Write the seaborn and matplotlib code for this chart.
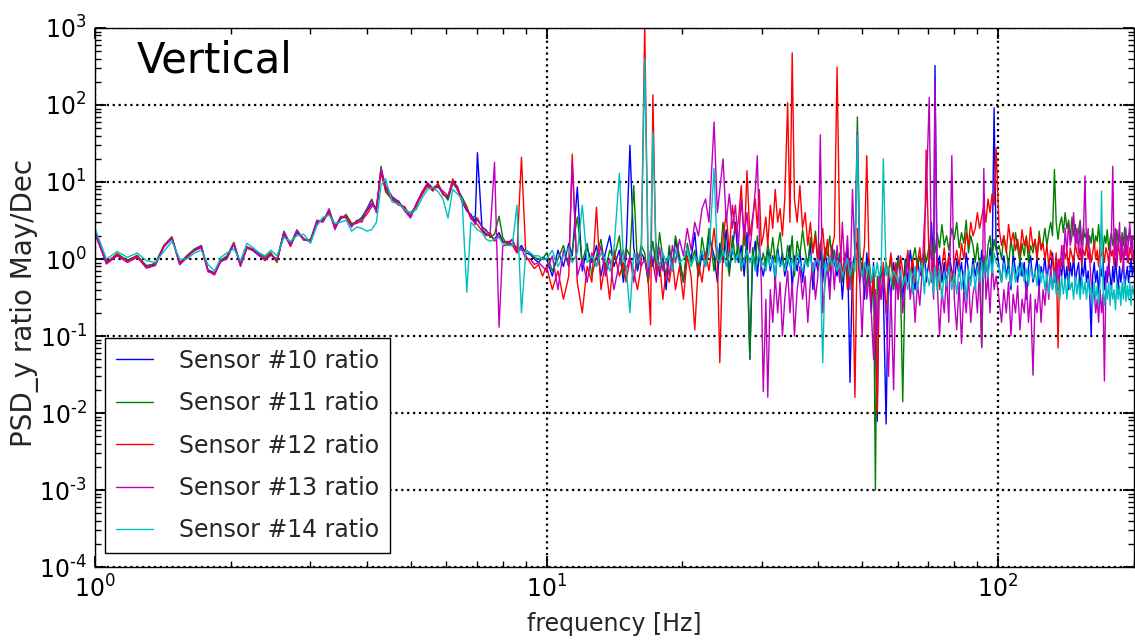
import numpy as np
import pandas as pd
import matplotlib
matplotlib.use("Agg")
import matplotlib.pyplot as plt
from matplotlib.ticker import FuncFormatter, LogLocator
import seaborn as sns

# ---------------- data ----------------
freq = [
    # 1 - 2.5 Hz
    1.00, 1.06, 1.12, 1.18, 1.24, 1.30, 1.36, 1.42, 1.48, 1.54, 1.60, 1.66,
    1.72, 1.78, 1.84, 1.90, 1.96, 2.03, 2.10, 2.17, 2.24, 2.31, 2.38, 2.45,
    # 2.5 - 4.5 Hz
    2.53, 2.62, 2.71, 2.80, 2.90, 3.00, 3.10, 3.20, 3.30, 3.40, 3.50, 3.60,
    3.70, 3.80, 3.90, 4.00, 4.10, 4.20, 4.30, 4.40,
    # 4.5 - 10 Hz
    4.55, 4.70, 4.85, 5.00, 5.15, 5.30, 5.45, 5.60, 5.75, 5.90, 6.05, 6.20,
    6.35, 6.50, 6.66, 6.80, 6.95, 7.03, 7.20, 7.35, 7.50, 7.67, 7.85, 8.00,
    8.20, 8.40, 8.60, 8.80, 9.00, 9.20, 9.40, 9.60, 9.80,
    # 10 - 30 Hz
    10.0, 10.3, 10.6, 10.9, 11.2, 11.4, 11.7, 12.0, 12.3, 12.6,
    12.9, 13.2, 13.5, 13.8, 14.1, 14.5, 14.8, 15.0, 15.3, 15.6,
    15.9, 16.2, 16.5, 16.8, 17.0, 17.2, 17.5, 17.8, 18.1, 18.4,
    18.7, 19.0, 19.3, 19.7, 20.1, 20.5, 20.9, 21.3, 21.7, 22.1,
    22.5, 22.9, 23.5, 23.9, 24.2, 24.6, 25.0, 25.4, 25.8, 26.2,
    26.6, 27.0, 27.4, 27.8, 28.2, 28.6, 29.0, 29.3, 29.6, 29.9,
    # 30 - 100 Hz
    30.2, 30.6, 30.9, 31.3, 31.7, 32.1, 32.5, 32.9, 33.3, 33.7,
    34.2, 34.6, 35.0, 35.4, 35.9, 36.4, 36.9, 37.4, 37.9, 38.4,
    38.9, 39.4, 39.9, 40.4, 40.9, 41.4, 41.9, 42.4, 42.9, 43.4,
    44.0, 44.6, 45.2, 45.8, 46.4, 47.0, 47.6, 48.2, 48.8, 49.4,
    50.0, 50.6, 51.2, 51.8, 52.4, 53.0, 53.5, 54.0, 54.5, 55.1,
    55.7, 56.5, 57.2, 57.9, 58.7, 59.4, 60.1, 60.8, 61.5, 62.3,
    63.1, 63.9, 64.7, 65.5, 66.3, 67.1, 67.9, 68.7, 69.3, 70.4,
    71.2, 72.0, 72.5, 73.3, 74.2, 75.1, 76.0, 76.9, 77.8, 79.0,
    80.0, 81.0, 82.0, 83.0, 84.0, 85.0, 86.0, 87.0, 88.0, 89.0,
    90.0, 91.0, 92.0, 93.0, 94.0, 95.0, 96.0, 97.0, 98.0, 99.0,
    # 100 - 200 Hz
    100.5, 101.8, 103.0, 104.3, 105.5, 106.8, 108.0, 109.3, 110.5, 111.8,
    113.0, 114.3, 115.5, 116.8, 118.0, 119.5, 120.8, 122.0, 123.3, 124.5,
    125.8, 127.0, 128.3, 129.5, 130.8, 132.0, 133.3, 134.5, 135.8, 137.0,
    138.3, 139.5, 140.8, 142.0, 143.3, 144.5, 145.8, 147.0, 148.3, 149.5,
    150.8, 152.0, 153.3, 154.5, 155.8, 157.0, 158.3, 159.5, 160.8, 162.0,
    163.3, 164.5, 165.8, 167.0, 168.3, 169.5, 170.8, 172.0, 173.3, 174.5,
    175.8, 177.0, 178.3, 179.5, 180.8, 182.0, 183.3, 184.5, 185.8, 187.0,
    188.3, 189.5, 190.8, 192.0, 193.3, 194.5, 195.8, 197.0, 198.3, 199.5,
]

sensor10 = [
    2.3, 0.92, 1.12, 0.97, 1.08, 0.82, 0.86, 1.45, 1.85, 0.9, 1.08, 1.3, 1.4, 0.72, 0.66, 0.95, 1.05, 1.55, 0.86, 1.4, 1.28, 1.1, 1.0, 1.15,
    0.95, 2.1, 1.5, 2.2, 1.8, 1.7, 2.9, 3.3, 4.1, 2.5, 3.4, 3.5, 2.7, 3.1, 3.4, 4.2, 5.2, 4.5, 14, 8.5,
    6.2, 5.3, 4.6, 3.6, 5.2, 7.2, 9.5, 8.0, 8.8, 7.0, 6.2, 10.5, 8.5, 5.5, 4.2, 3.8, 3.0, 24, 2.4, 2.1, 2.0, 1.8, 2.2, 1.7, 1.6, 1.8, 1.25, 1.5, 1.2, 1.15, 1.0, 0.9, 1.05,
    1.0, 0.6, 1.3, 0.8, 1.6, 1.1, 8.6, 0.7, 1.4, 0.9,
    1.5, 0.6, 1.2, 2.0, 0.8, 1.3, 0.5, 1.1, 30, 1.4,
    0.7, 1.2, 1.0, 0.5, 1.3, 0.8, 1.6, 0.6, 1.1, 0.4,
    1.3, 0.7, 1.8, 0.9, 0.5, 1.4, 1.0, 2.2, 0.6, 1.2,
    0.8, 2.0, 1.1, 0.5, 1.6, 0.9, 2.4, 0.7, 1.3, 3.0,
    0.9, 1.5, 0.6, 2.2, 0.05, 1.0, 1.7, 0.6, 1.2, 0.8,
    0.6, 1.0, 1.3, 0.7, 1.1, 0.5, 1.4, 0.8, 1.2, 0.6,
    0.9, 1.5, 0.4, 1.1, 0.7, 1.3, 0.5, 1.0, 0.8, 1.6,
    0.4, 1.0, 0.7, 1.3, 0.5, 1.2, 0.8, 0.4, 1.5, 0.9,
    0.6, 1.1, 0.3, 0.9, 1.4, 0.025, 0.8, 1.2, 1.7, 0.5,
    0.9, 0.3, 1.2, 0.6, 0.2, 0.9, 0.1, 0.0078, 0.5, 0.8,
    0.4, 0.0072, 0.7, 0.3, 0.9, 0.5, 1.1, 0.6, 0.3, 1.0,
    0.5, 1.3, 0.7, 0.4, 1.0, 0.6, 0.8, 1.2, 0.5, 1.0,
    3.0, 0.8, 325, 0.6, 1.1, 0.5, 0.9, 0.4, 1.2, 0.7,
    0.5, 1.0, 0.6, 0.9, 0.4, 1.2, 0.7, 0.5, 1.0, 0.6,
    0.9, 0.5, 1.3, 0.7, 1.0, 0.6, 1.4, 0.8, 92, 1.5,
    0.8, 0.5, 1.1, 0.6, 0.9, 0.4, 1.2, 0.7, 0.5, 1.0,
    0.6, 0.9, 0.3, 0.8, 1.1, 0.5, 0.7, 1.0, 0.4, 0.8,
    0.6, 1.1, 0.5, 0.9, 0.7, 1.2, 0.5, 0.8, 0.4, 0.9,
    0.6, 1.0, 0.5, 0.8, 0.4, 0.9, 0.6, 1.1, 0.5, 0.7,
    0.9, 0.4, 0.8, 0.6, 1.0, 0.5, 0.7, 0.4, 0.1, 0.6,
    0.9, 0.5, 0.7, 0.35, 0.8, 0.6, 1.0, 0.4, 0.7, 0.5,
    0.9, 0.6, 0.4, 0.8, 0.5, 1.0, 0.6, 0.4, 0.8, 0.5,
    0.7, 0.9, 0.4, 0.6, 0.8, 0.5, 0.7, 1.0, 0.6, 0.8,
]

sensor11 = [
    2.2, 0.88, 1.18, 0.95, 1.12, 0.8, 0.88, 1.5, 1.95, 0.88, 1.12, 1.35, 1.5, 0.7, 0.64, 0.97, 1.1, 1.65, 0.84, 1.45, 1.32, 1.2, 1.05, 1.22,
    0.9, 2.3, 1.55, 2.4, 1.75, 1.8, 3.1, 3.2, 4.3, 2.7, 3.3, 3.8, 2.9, 3.0, 3.5, 4.5, 6.0, 4.2, 16, 7.5,
    5.8, 5.7, 4.3, 4.0, 4.8, 7.5, 8.6, 8.3, 9.4, 7.2, 5.8, 9.6, 8.0, 6.4, 4.8, 3.4, 3.6, 3.2, 2.6, 2.4, 1.9, 2.1, 3.6, 1.9, 1.5, 1.6, 1.4, 1.3, 1.3, 1.2, 1.05, 1.0, 1.0,
    1.2, 0.7, 1.0, 1.5, 0.8, 1.3, 3.5, 0.9, 1.6, 0.6,
    1.1, 1.8, 0.7, 1.3, 1.0, 2.0, 0.6, 1.4, 1.1, 9.0,
    0.8, 1.5, 1.2, 0.5, 1.0, 1.7, 0.7, 2.2, 1.0, 0.6,
    1.5, 0.8, 2.0, 1.1, 0.5, 1.6, 0.9, 1.3, 0.6, 1.9,
    1.0, 2.5, 0.7, 1.4, 0.9, 3.0, 1.2, 0.6, 2.0, 1.0,
    1.6, 0.7, 2.8, 1.1, 0.05, 1.4, 0.8, 2.0, 1.2, 0.9,
    1.2, 0.8, 1.6, 1.0, 1.9, 0.9, 1.4, 2.2, 1.1, 0.7,
    1.5, 1.0, 2.0, 0.6, 1.7, 1.1, 2.4, 1.3, 0.8, 1.9,
    1.2, 2.3, 1.0, 1.6, 0.8, 1.4, 1.1, 2.0, 0.9, 1.3,
    0.7, 1.2, 0.5, 1.0, 0.6, 0.9, 0.4, 1.1, 70, 1.3,
    0.6, 0.9, 0.4, 1.0, 0.5, 0.7, 0.001, 0.6, 0.3, 0.8,
    0.5, 0.9, 0.6, 1.1, 0.4, 0.7, 1.0, 0.5, 0.014, 0.8,
    1.2, 0.6, 1.0, 1.4, 0.8, 1.1, 0.6, 1.3, 0.9, 1.5,
    1.0, 1.7, 1.2, 2.2, 1.4, 2.8, 1.5, 2.0, 1.3, 2.5,
    1.8, 3.0, 1.4, 2.2, 1.6, 3.2, 1.2, 2.0, 1.5, 0.9,
    1.6, 0.8, 0.07, 1.1, 0.7, 1.5, 2.0, 1.0, 1.8, 1.3,
    1.5, 1.0, 2.0, 1.3, 0.8, 1.8, 1.1, 2.2, 1.4, 0.9,
    1.6, 1.1, 2.0, 0.9, 1.5, 1.2, 1.8, 1.0, 2.3, 1.4,
    1.7, 2.5, 1.5, 2.2, 3.0, 2.0, 14.5, 3.0, 1.8, 2.8,
    3.5, 2.2, 4.0, 2.5, 3.2, 1.8, 3.5, 2.0, 2.8, 1.6,
    2.4, 3.2, 1.5, 2.6, 1.9, 2.2, 1.4, 2.0, 1.6, 2.5,
    1.4, 2.0, 1.7, 2.8, 1.5, 2.3, 1.2, 2.0, 1.6, 2.4,
    1.3, 1.8, 2.2, 1.5, 2.0, 1.2, 2.4, 1.6, 2.0, 1.4,
    2.2, 1.5, 2.6, 1.3, 2.0, 1.7, 2.4, 1.5, 2.0, 1.8,
]

sensor12 = [
    2.1, 0.9, 1.15, 0.93, 1.1, 0.78, 0.84, 1.48, 1.9, 0.86, 1.1, 1.28, 1.42, 0.68, 0.66, 0.92, 1.02, 1.6, 0.82, 1.38, 1.3, 1.15, 0.98, 1.18,
    0.95, 2.2, 1.45, 2.3, 1.85, 1.65, 3.0, 3.1, 4.0, 2.6, 3.5, 3.6, 2.8, 2.9, 3.2, 3.8, 4.8, 4.8, 13, 7.8,
    6.0, 5.0, 4.8, 3.5, 5.1, 6.8, 9.0, 7.6, 9.6, 6.8, 6.5, 11.0, 7.8, 5.8, 4.6, 3.3, 3.0, 2.8, 2.3, 2.0, 2.2, 1.7, 2.0, 1.6, 1.7, 1.5, 1.2, 21, 1.1, 0.9, 0.75, 0.85, 0.6,
    0.8, 0.4, 0.7, 0.3, 0.6, 23, 0.5, 0.2, 0.8, 0.5,
    4.7, 0.4, 0.9, 0.3, 1.3, 0.6, 0.9, 0.5, 1.0, 0.7,
    0.4, 0.8, 1100, 0.5, 0.14, 135, 0.6, 0.9, 0.3, 0.7,
    0.5, 1.0, 0.4, 0.8, 0.3, 1.1, 0.6, 0.12, 0.9, 0.5,
    1.2, 0.7, 2.5, 0.9, 0.045, 1.8, 4.0, 1.2, 5.0, 2.2,
    3.0, 9.0, 1.5, 14, 2.0, 3.5, 6.0, 2.5, 8.0, 1.5,
    2.0, 3.5, 1.5, 5.0, 2.5, 8.0, 3.0, 4.5, 2.0, 6.0,
    107, 3.0, 475, 6.0, 3.0, 9.0, 2.5, 4.0, 1.5, 3.0,
    1.2, 2.0, 0.8, 1.5, 2.5, 1.0, 1.8, 0.7, 1.4, 2.0,
    310, 1.8, 0.6, 1.2, 0.4, 1.0, 0.8, 0.016, 2.5, 0.5,
    0.8, 1.5, 22, 0.8, 0.3, 0.6, 0.2, 0.01, 0.5, 0.3,
    0.9, 0.2, 0.6, 1.2, 0.5, 0.9, 0.3, 1.1, 0.7, 0.4,
    1.3, 0.6, 1.0, 0.5, 0.9, 1.4, 0.7, 1.1, 26, 0.8,
    0.5, 1.2, 0.6, 1.0, 0.4, 0.8, 1.4, 0.7, 1.1, 0.5,
    0.9, 1.3, 0.8, 1.6, 1.0, 2.2, 1.5, 3.0, 2.0, 2.5,
    4.0, 2.5, 3.5, 5.0, 3.0, 6.0, 4.0, 7.0, 5.0, 28,
    2.5, 1.5, 2.0, 1.2, 2.8, 1.6, 2.2, 1.3, 1.8, 1.1,
    2.4, 1.5, 1.9, 1.2, 2.6, 1.4, 1.8, 1.0, 2.0, 1.3,
    1.6, 1.0, 1.5, 0.8, 1.3, 1.0, 0.6, 1.2, 0.07, 1.0,
    0.8, 1.5, 1.0, 1.3, 0.7, 1.4, 1.1, 0.9, 1.6, 1.2,
    1.0, 1.4, 0.8, 1.3, 1.1, 1.6, 1.0, 1.4, 0.9, 1.2,
    1.7, 1.0, 1.3, 0.8, 1.5, 1.1, 1.3, 0.9, 1.4, 1.2,
    0.9, 1.5, 1.1, 1.3, 0.8, 1.4, 1.0, 1.6, 1.2, 0.9,
    1.3, 1.0, 1.5, 1.1, 1.3, 0.9, 1.4, 1.2, 1.0, 1.3,
]

sensor13 = [
    2.2, 0.86, 1.1, 0.9, 1.05, 0.76, 0.82, 1.42, 1.88, 0.84, 1.05, 1.3, 1.48, 0.7, 0.62, 0.94, 1.0, 1.58, 0.8, 1.42, 1.35, 1.12, 0.95, 1.12,
    1.0, 2.25, 1.5, 2.35, 1.8, 1.7, 3.2, 3.0, 4.5, 2.4, 3.6, 3.4, 2.6, 3.2, 3.0, 4.4, 5.8, 4.0, 15, 9,
    6.5, 5.6, 4.2, 3.4, 5.3, 7.4, 9.8, 8.4, 8.5, 7.6, 6.6, 9.8, 8.8, 5.7, 4.3, 3.6, 2.8, 3.4, 2.6, 2.3, 2.1, 18, 0.13, 1.5, 1.5, 1.8, 1.2, 1.4, 1.0, 1.0, 0.85, 0.9, 0.8,
    0.7, 1.1, 0.4, 1.3, 0.8, 18, 0.6, 1.0, 0.5, 1.2,
    0.8, 1.5, 0.6, 1.0, 0.4, 0.9, 1.3, 0.7, 1.1, 0.5,
    1.2, 0.8, 1.0, 0.6, 1.3, 0.9, 0.5, 1.4, 0.7, 1.0,
    0.6, 1.5, 0.9, 1.8, 1.1, 2.5, 1.3, 3.0, 2.0, 4.5,
    6.0, 3.0, 60, 4.0, 8.0, 20, 3.0, 7.0, 2.5, 5.0,
    1.5, 6.0, 2.0, 4.0, 1.2, 3.0, 8.0, 22, 2.0, 0.5,
    0.019, 0.3, 0.016, 0.4, 0.15, 0.6, 0.2, 0.5, 0.1, 0.3,
    0.7, 0.2, 0.5, 0.1, 0.4, 0.8, 0.3, 0.6, 0.15, 0.5,
    0.9, 0.3, 0.6, 41, 0.2, 0.5, 0.8, 0.3, 1.2, 0.4,
    1.5, 0.5, 3.0, 0.7, 2.0, 0.4, 8.0, 1.0, 44, 0.5,
    0.1, 0.8, 0.3, 0.6, 0.2, 0.05, 0.4, 0.1, 0.6, 0.3,
    0.7, 0.2, 0.03, 0.4, 0.02, 0.6, 0.3, 0.8, 0.2, 0.5,
    1.0, 0.3, 0.6, 0.15, 0.5, 0.25, 0.7, 3.0, 6.0, 125,
    0.8, 0.3, 200, 0.5, 0.1, 0.4, 0.2, 0.6, 0.15, 22,
    0.3, 0.12, 0.5, 0.08, 0.4, 0.2, 0.6, 0.15, 0.35, 0.5,
    0.2, 0.8, 0.072, 15, 0.3, 0.6, 0.2, 0.9, 0.4, 0.6,
    0.3, 0.15, 0.4, 0.2, 0.5, 0.1, 0.35, 0.2, 0.45, 0.12,
    0.3, 0.2, 0.5, 0.15, 0.35, 0.031, 0.3, 0.2, 0.45, 0.15,
    0.4, 0.25, 0.6, 0.3, 0.8, 0.4, 0.7, 0.5, 1.0, 0.6,
    1.5, 0.8, 2.5, 1.2, 3.0, 1.5, 2.0, 4.0, 1.5, 2.5,
    1.2, 3.0, 0.8, 2.0, 12, 1.5, 2.5, 1.0, 0.5, 0.3,
    0.4, 0.2, 0.3, 0.15, 0.4, 0.2, 0.35, 0.026, 0.5, 0.8,
    0.6, 1.2, 2.0, 16, 1.0, 2.5, 0.8, 1.5, 3.0, 1.0,
    2.0, 0.7, 1.5, 2.5, 0.9, 1.8, 3.0, 1.2, 2.0, 0.9,
]

sensor14 = [
    2.5, 1.0, 1.25, 1.05, 1.2, 0.95, 0.9, 1.25, 1.7, 1.0, 1.0, 1.2, 1.3, 0.85, 0.7, 1.05, 1.2, 1.35, 0.95, 1.6, 1.4, 1.2, 1.1, 1.3,
    1.1, 1.9, 1.7, 2.0, 2.1, 1.6, 2.7, 3.5, 3.7, 2.9, 3.0, 3.2, 2.3, 2.6, 2.5, 2.3, 2.4, 3.0, 9, 11,
    5.5, 5.2, 4.4, 3.9, 4.4, 6.2, 8.0, 8.5, 7.5, 6.0, 3.4, 8.0, 7.0, 6.0, 0.37, 3.0, 2.6, 2.4, 2.2, 1.8, 1.7, 1.8, 1.9, 1.6, 1.5, 1.5, 5.0, 0.2, 1.3, 1.2, 1.1, 1.1, 1.0,
    1.0, 1.3, 0.8, 1.1, 1.4, 0.9, 1.2, 5.0, 0.9, 1.1,
    0.8, 1.2, 1.0, 0.7, 1.3, 13, 1.0, 0.8, 0.2, 1.2,
    0.9, 1.1, 400, 0.8, 1.2, 45, 1.0, 0.8, 1.2, 0.9,
    1.1, 0.7, 1.3, 0.9, 1.0, 1.4, 0.8, 1.1, 0.9, 1.3,
    0.8, 1.2, 15, 1.0, 0.9, 1.3, 0.8, 1.1, 1.4, 0.9,
    1.2, 0.8, 1.0, 1.3, 0.9, 1.1, 0.7, 1.0, 1.2, 0.8,
    0.9, 0.7, 1.1, 0.8, 1.0, 0.6, 1.2, 0.8, 0.9, 0.7,
    1.1, 0.8, 1.0, 0.7, 1.2, 0.9, 0.7, 1.0, 0.8, 1.1,
    0.7, 0.9, 1.0, 0.8, 0.045, 0.9, 0.7, 1.1, 0.8, 1.0,
    0.7, 0.9, 0.6, 0.8, 1.0, 0.6, 0.9, 0.7, 40, 0.8,
    0.6, 0.9, 0.7, 0.8, 0.5, 0.8, 0.6, 0.9, 0.6, 0.7,
    20, 0.6, 0.8, 0.5, 0.7, 0.6, 0.5, 0.7, 0.45, 0.6,
    0.4, 0.75, 0.35, 0.8, 0.4, 0.7, 0.9, 0.35, 0.75, 0.45,
    0.7, 0.35, 0.8, 0.4, 0.75, 0.3, 0.65, 0.45, 0.8, 0.4,
    0.65, 0.35, 0.8, 0.4, 0.7, 0.3, 0.75, 0.45, 0.85, 0.4,
    0.8, 0.5, 0.9, 0.55, 1.0, 0.6, 1.1, 0.65, 1.2, 0.9,
    0.8, 0.5, 0.9, 0.55, 0.75, 0.45, 0.85, 0.5, 0.8, 0.6,
    0.9, 0.5, 0.75, 0.45, 0.8, 0.55, 0.7, 0.45, 0.85, 0.5,
    0.7, 0.4, 0.65, 0.35, 0.6, 0.4, 0.7, 0.35, 0.55, 0.3,
    0.6, 0.35, 0.55, 0.3, 0.65, 0.4, 0.5, 0.3, 0.6, 0.35,
    0.55, 0.3, 0.6, 0.35, 0.5, 0.3, 0.55, 0.35, 0.45, 0.25,
    0.5, 0.3, 0.45, 0.25, 0.5, 7.6, 0.4, 0.25, 0.45, 0.3,
    0.5, 0.25, 0.45, 0.3, 0.4, 0.22, 0.5, 0.3, 0.45, 0.25,
    0.5, 0.3, 0.55, 0.28, 0.45, 0.3, 0.5, 0.25, 0.45, 0.35,
]

labels = ["Sensor #10 ratio", "Sensor #11 ratio", "Sensor #12 ratio",
          "Sensor #13 ratio", "Sensor #14 ratio"]
colors = ["#0000ff", "#008000", "#ff0000", "#bf00bf", "#00bfbf"]

# ---------------- build long-form table ----------------
series = [sensor10, sensor11, sensor12, sensor13, sensor14]
frames = []
for lab, vals in zip(labels, series):
    n = min(len(freq), len(vals))
    frames.append(pd.DataFrame({"freq": freq[:n], "ratio": vals[:n], "sensor": lab}))
df = pd.concat(frames, ignore_index=True)

# ---------------- style ----------------
sns.set_theme(style="ticks")
plt.rcParams["font.family"] = ["DejaVu Sans"]
plt.rcParams["mathtext.fontset"] = "dejavusans"

fig = plt.figure(figsize=(11.35, 6.42), dpi=100)
ax = fig.add_axes([0.0837, 0.1168, 0.9154, 0.8396])
ax.set_xscale("log")
ax.set_yscale("log")

sns.lineplot(data=df, x="freq", y="ratio", hue="sensor", hue_order=labels,
             palette=colors, estimator=None, sort=True, linewidth=1.0,
             legend=False, ax=ax)

ax.set_xlim(1, 200)
ax.set_ylim(1e-4, 1e3)


def pow10_label(v, pos):
    e = int(round(np.log10(v)))
    if e < 0:
        return r"$\mathdefault{10^{\text{-}%d}}$" % (-e)
    return r"$\mathdefault{10^{%d}}$" % e


ax.yaxis.set_major_locator(LogLocator(base=10, numticks=20))
ax.yaxis.set_major_formatter(FuncFormatter(pow10_label))
ax.xaxis.set_major_formatter(FuncFormatter(pow10_label))

ax.grid(True, which="major", color="black", linestyle=":", linewidth=1.6)
ax.tick_params(which="both", direction="in", top=True, right=True,
               colors="black", labelsize=17)
ax.tick_params(which="major", length=8, width=1.3, pad=6)
ax.tick_params(which="minor", length=4, width=1.0)
for s in ax.spines.values():
    s.set_color("black")
    s.set_linewidth(1.0)

ax.set_xlabel("frequency [Hz]", fontsize=17, labelpad=7)
ax.set_ylabel("PSD_y ratio May/Dec", fontsize=20)
ax.yaxis.set_label_coords(-0.054, 0.49)

ax.text(0.04, 0.918, "Vertical", transform=ax.transAxes, fontsize=30,
        ha="left", va="baseline", color="black")

leg = ax.legend(ax.lines[:5], labels, loc="lower left",
                bbox_to_anchor=(0.0096, 0.026), borderaxespad=0,
                fontsize=17, frameon=True, fancybox=False, framealpha=1,
                edgecolor="black", handlelength=1.6, handletextpad=1.1,
                labelspacing=0.78, borderpad=0.45)
leg.get_frame().set_linewidth(1.0)

fig.savefig("out.png", dpi=100)
